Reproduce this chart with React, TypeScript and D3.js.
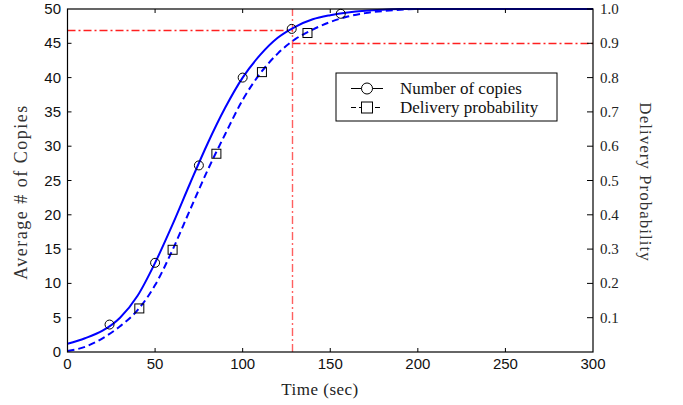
import React from "react";
import * as d3 from "d3";

const times = [0, 10, 20, 30, 40, 50, 60, 70, 80, 90, 100, 110, 120, 130, 140, 150, 160, 170, 180, 190, 200, 250, 300];
const copies = [1.2, 2.0, 3.1, 5.0, 8.2, 13.0, 18.6, 24.6, 30.4, 35.6, 40.0, 43.3, 45.8, 47.4, 48.5, 49.1, 49.5, 49.75, 49.9, 50, 50, 50, 50];
const delivery = [0.003, 0.015, 0.04, 0.075, 0.122, 0.195, 0.298, 0.415, 0.53, 0.635, 0.735, 0.812, 0.87, 0.912, 0.94, 0.962, 0.978, 0.988, 0.994, 0.998, 1, 1, 1];

const circleTimes = [24, 50, 75, 100, 128, 156];
const circleCopies = [4.0, 13.0, 27.2, 40.0, 47.1, 49.3];
const squareTimes = [41, 60, 85, 111, 137];
const squareProb = [0.127, 0.298, 0.578, 0.816, 0.93];

const refTime = 128;
const refCopies = 47;
const refProb = 0.9;

const xTicks = [0, 50, 100, 150, 200, 250, 300];
const yTicks = [0, 5, 10, 15, 20, 25, 30, 35, 40, 45, 50];
const pTicks = [0.1, 0.2, 0.3, 0.4, 0.5, 0.6, 0.7, 0.8, 0.9, 1.0];

const legendLabels = ["Number of copies", "Delivery probability"];

export default function App() {
  const x = d3.scaleLinear().domain([0, 300]).range([67.5, 593]);
  const y = d3.scaleLinear().domain([0, 50]).range([352, 9]);
  const yp = d3.scaleLinear().domain([0, 1]).range([352, 9]);

  const solid = d3
    .line<number>()
    .x((_, i) => x(times[i]))
    .y((d) => y(d))
    .curve(d3.curveMonotoneX)(copies) as string;
  const dashed = d3
    .line<number>()
    .x((_, i) => x(times[i]))
    .y((d) => yp(d))
    .curve(d3.curveMonotoneX)(delivery) as string;

  const sans = "'Liberation Sans', Arial, sans-serif";
  const serif = "'Liberation Serif', 'Times New Roman', serif";
  const red = "#ff2020";
  const blue = "#0000ff";
  const [x0, x1] = x.range();
  const [y0, y1] = y.range();
  const snap = (v: number) => Math.round(v) + 0.5;
  const dash = "8,3,2,3";

  return (
    <svg width={683} height={405} style={{ position: "absolute", left: 0, top: 0, background: "#fff" }}>
      {/* reference lines */}
      <line x1={snap(x(refTime))} x2={snap(x(refTime))} y1={y0} y2={y1} stroke="#ff6060" strokeWidth={1.4} strokeDasharray={dash} />
      <line x1={x0} x2={snap(x(refTime))} y1={snap(y(refCopies))} y2={snap(y(refCopies))} stroke={red} strokeWidth={1.3} strokeDasharray={dash} />
      <line x1={snap(x(refTime))} x2={x1} y1={snap(yp(refProb))} y2={snap(yp(refProb))} stroke={red} strokeWidth={1.3} strokeDasharray={dash} />

      {/* curves */}
      <path d={solid} fill="none" stroke={blue} strokeWidth={2} />
      <path d={dashed} fill="none" stroke={blue} strokeWidth={2} strokeDasharray="7,4" />

      {/* markers */}
      {circleTimes.map((t, i) => (
        <circle key={"c" + i} cx={x(t)} cy={y(circleCopies[i])} r={4.5} fill="none" stroke="#000" strokeWidth={1} />
      ))}
      {squareTimes.map((t, i) => (
        <rect key={"s" + i} x={x(t) - 4.5} y={yp(squareProb[i]) - 4.5} width={9} height={9} fill="none" stroke="#000" strokeWidth={1} />
      ))}

      {/* axes frame */}
      <rect x={x0} y={y1} width={x1 - x0} height={y0 - y1} fill="none" stroke="#000" strokeWidth={1.2} />

      {/* x ticks */}
      {xTicks.map((t) => (
        <g key={"x" + t}>
          {t > 0 && t < 300 && (
            <>
              <line x1={x(t)} x2={x(t)} y1={y0} y2={y0 - 4} stroke="#000" />
              <line x1={x(t)} x2={x(t)} y1={y1} y2={y1 + 4} stroke="#000" />
            </>
          )}
          <text x={x(t)} y={369} textAnchor="middle" fontFamily={sans} fontSize={15} fill="#111">
            {t}
          </text>
        </g>
      ))}

      {/* left ticks */}
      {yTicks.map((v) => (
        <g key={"y" + v}>
          {v > 0 && v < 50 && <line x1={x0} x2={x0 + 4} y1={y(v)} y2={y(v)} stroke="#000" />}
          <text x={61} y={y(v) + 5} textAnchor="end" fontFamily={sans} fontSize={15} fill="#111">
            {v}
          </text>
        </g>
      ))}

      {/* right ticks */}
      {pTicks.map((v) => (
        <g key={"p" + v}>
          <line x1={x1} x2={x1 - 6} y1={yp(v)} y2={yp(v)} stroke="#000" />
          <text x={600} y={yp(v) + 5} fontFamily={serif} fontSize={15} fill="#222">
            {v.toFixed(1)}
          </text>
        </g>
      ))}

      {/* axis titles */}
      <text x={320} y={395} textAnchor="middle" fontFamily={serif} fontSize={17} letterSpacing={0.5} fill="#222">
        Time (sec)
      </text>
      <text transform={`translate(27,192) rotate(-90)`} textAnchor="middle" fontFamily={serif} fontSize={18} letterSpacing={1.5} fill="#333">
        Average # of Copies
      </text>
      <text transform={`translate(640,182) rotate(90)`} textAnchor="middle" fontFamily={serif} fontSize={17} letterSpacing={1} fill="#333">
        Delivery Probability
      </text>

      {/* legend */}
      <rect x={336} y={73} width={221} height={48} fill="#fff" stroke="#000" strokeWidth={1} />
      <line x1={351} x2={383} y1={88.5} y2={88.5} stroke="#000" strokeWidth={1} />
      <circle cx={367} cy={88.5} r={5.5} fill="#fff" stroke="#000" strokeWidth={1} />
      <text x={400} y={94} fontFamily={serif} fontSize={17} fill="#111">
        {legendLabels[0]}
      </text>
      <line x1={351} x2={383} y1={107.5} y2={107.5} stroke="#000" strokeWidth={1} strokeDasharray="5,3" />
      <rect x={361.5} y={102} width={11} height={11} fill="#fff" stroke="#000" strokeWidth={1} />
      <text x={400} y={113} fontFamily={serif} fontSize={17} fill="#111">
        {legendLabels[1]}
      </text>
    </svg>
  );
}
